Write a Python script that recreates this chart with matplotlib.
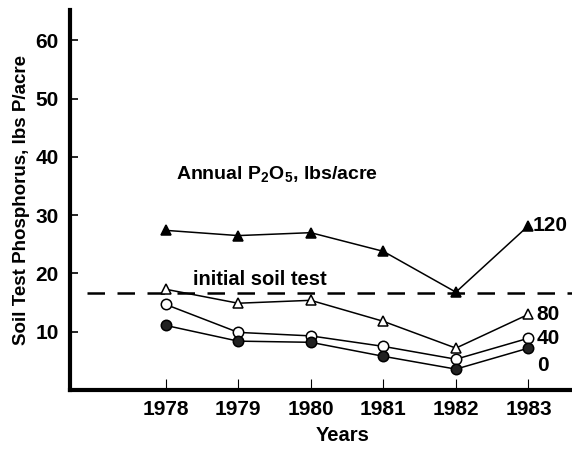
import matplotlib
matplotlib.use("Agg")
import matplotlib.pyplot as plt

plt.rcParams["font.family"] = ["Liberation Sans", "DejaVu Sans"]
plt.rcParams["font.weight"] = "bold"
plt.rcParams["mathtext.fontset"] = "custom"
plt.rcParams["mathtext.rm"] = "Liberation Sans:bold"
plt.rcParams["mathtext.it"] = "Liberation Sans:bold"
plt.rcParams["mathtext.bf"] = "Liberation Sans:bold"

years = [1978, 1979, 1980, 1981, 1982, 1983]
rate_labels = ["120", "80", "40", "0"]
p120 = [27.4, 26.5, 27.0, 23.8, 16.8, 28.2]
p80 = [17.3, 14.9, 15.4, 11.8, 7.2, 13.0]
p40 = [14.7, 9.9, 9.3, 7.5, 5.3, 8.9]
p0 = [11.1, 8.4, 8.2, 5.8, 3.6, 7.2]
initial_test = 16.7
yticks = [10, 20, 30, 40, 50, 60]

series = [
    (p120, "^", "black"),
    (p80, "^", "white"),
    (p40, "o", "white"),
    (p0, "o", "#222222"),
]

fig = plt.figure(figsize=(5.72, 4.51), dpi=100)
ax = fig.add_axes([0.122, 0.135, 0.878, 0.843])

ax.axhline(initial_test, xmin=0.035, xmax=1, color="black", lw=1.8,
           dashes=(7, 5), zorder=1)

for vals, m, fc in series:
    ax.plot(years, vals, color="black", lw=1.1, marker=m, ms=7.5,
            mfc=fc, mec="black", mew=1.1, zorder=3)

label_offsets = [0, 0, 0, -3.0]
label_pads = [3, 6, 6, 6]
for vals, lab, off, pad in zip([p120, p80, p40, p0], rate_labels,
                               label_offsets, label_pads):
    ax.annotate(lab, (years[-1], vals[-1] + off), xytext=(pad, 0),
                textcoords="offset points", va="center", ha="left",
                fontsize=15, fontweight="bold")

ax.text(1978.15, 37.0, r"Annual P$_2$O$_5$, lbs/acre", fontsize=14,
        fontweight="bold", va="center")
ax.text(1978.38, 17.3, "initial soil test", fontsize=14.5, fontweight="bold",
        va="bottom")

ax.set_xlim(1976.68, 1983.6)
ax.set_ylim(0, 65.2)
ax.set_xticks(years)
ax.set_yticks(yticks)
ax.tick_params(axis="x", direction="in", length=8, width=0.8, labelsize=15, pad=7)
ax.tick_params(axis="y", direction="in", length=6, width=1.2, labelsize=15, pad=8)
for lab in ax.get_xticklabels() + ax.get_yticklabels():
    lab.set_fontweight("bold")

for s in ["top", "right"]:
    ax.spines[s].set_visible(False)
ax.spines["left"].set_linewidth(3)
ax.spines["bottom"].set_linewidth(3)

ax.set_xlabel("Years", fontsize=14.5, fontweight="bold")
ax.xaxis.set_label_coords(0.544, -0.095)
ax.set_ylabel("Soil Test Phosphorus, lbs P/acre", fontsize=13.5,
              fontweight="bold", labelpad=4)

fig.savefig("out.png", dpi=100)
